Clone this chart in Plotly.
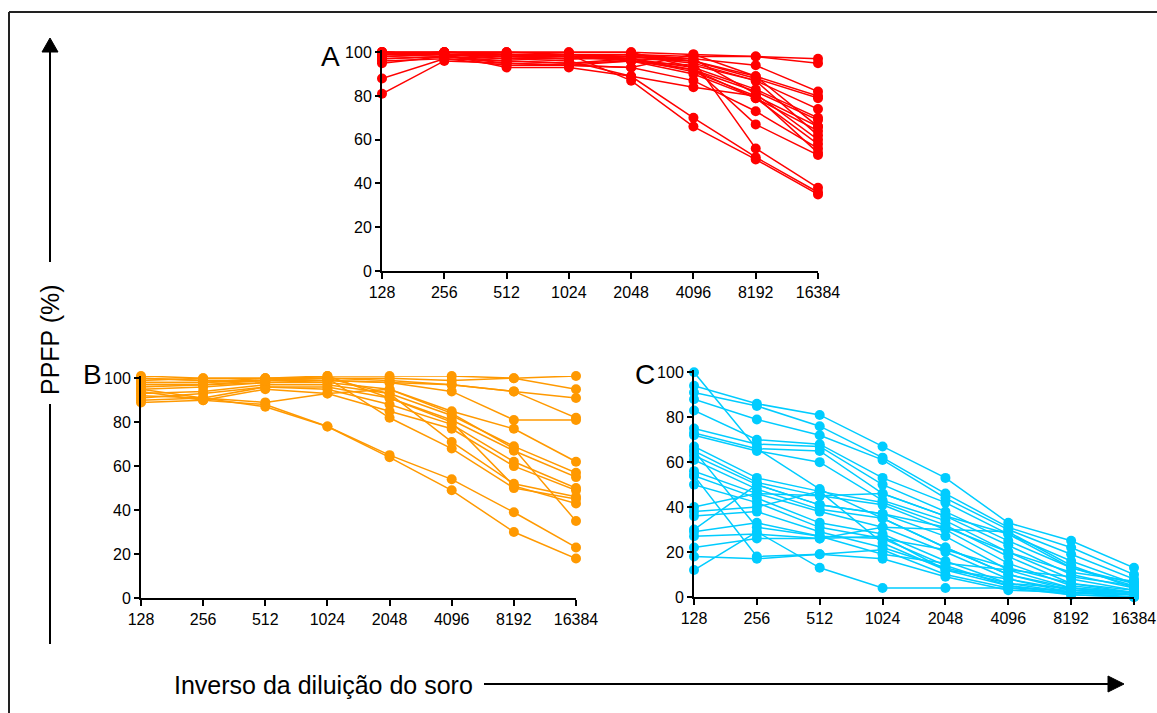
import plotly.graph_objects as go

W, H = 1157, 713

dilutions = ["128", "256", "512", "1024", "2048", "4096", "8192", "16384"]
y_ticks = [0, 20, 40, 60, 80, 100]

panel_a = [
    [100, 100, 100, 100, 100, 99, 98, 97],
    [99, 100, 99, 99, 99, 98, 98, 95],
    [100, 99, 99, 98, 98, 97, 94, 82],
    [98, 99, 98, 98, 99, 96, 89, 80],
    [95, 98, 97, 97, 98, 96, 88, 79],
    [100, 99, 98, 97, 98, 95, 87, 74],
    [88, 97, 96, 95, 97, 93, 83, 70],
    [81, 96, 95, 94, 96, 92, 82, 69],
    [99, 100, 100, 99, 97, 91, 80, 66],
    [100, 99, 98, 98, 96, 90, 79, 64],
    [97, 98, 96, 95, 96, 94, 87, 62],
    [99, 99, 99, 98, 99, 97, 81, 60],
    [100, 100, 99, 98, 97, 92, 79, 58],
    [96, 97, 94, 94, 93, 87, 73, 56],
    [100, 99, 93, 93, 89, 84, 80, 54],
    [99, 100, 100, 100, 100, 93, 67, 53],
    [100, 99, 98, 97, 97, 96, 56, 38],
    [98, 99, 97, 96, 89, 70, 52, 36],
    [100, 100, 99, 99, 87, 66, 51, 35],
    [97, 98, 95, 94, 93, 99, 89, 66],
]

panel_b = [
    [99, 100, 100, 101, 101, 101, 100, 101],
    [100, 99, 99, 100, 100, 99, 100, 95],
    [98, 98, 99, 99, 98, 97, 94, 91],
    [101, 100, 100, 100, 99, 97, 94, 82],
    [96, 97, 98, 99, 98, 94, 81, 81],
    [95, 96, 98, 98, 95, 85, 77, 62],
    [93, 94, 97, 97, 93, 83, 69, 57],
    [91, 93, 96, 96, 91, 81, 67, 55],
    [90, 91, 96, 95, 88, 79, 62, 50],
    [89, 90, 95, 93, 85, 77, 60, 49],
    [100, 99, 99, 100, 93, 71, 52, 46],
    [98, 98, 100, 100, 82, 68, 50, 45],
    [97, 97, 99, 101, 91, 80, 51, 43],
    [92, 91, 89, 93, 95, 84, 68, 35],
    [95, 91, 87, 78, 65, 54, 39, 23],
    [94, 90, 88, 78, 64, 49, 30, 18],
]

panel_c = [
    [100, 66, 48, 35, 22, 10, 4, 2],
    [94, 86, 81, 67, 53, 33, 25, 13],
    [91, 85, 76, 62, 46, 31, 22, 10],
    [88, 79, 72, 61, 44, 30, 19, 8],
    [83, 70, 68, 53, 42, 28, 16, 6],
    [75, 68, 67, 50, 38, 25, 13, 5],
    [73, 66, 65, 46, 36, 23, 10, 4],
    [72, 65, 60, 43, 34, 20, 8, 3],
    [67, 53, 47, 42, 32, 18, 6, 2],
    [65, 51, 45, 41, 30, 15, 5, 2],
    [63, 50, 41, 37, 27, 12, 4, 1],
    [61, 48, 39, 35, 22, 10, 3, 1],
    [56, 46, 38, 31, 20, 8, 2, 1],
    [54, 44, 33, 28, 16, 6, 2, 0],
    [50, 42, 31, 26, 14, 5, 1, 0],
    [40, 46, 45, 46, 36, 28, 13, 6],
    [38, 40, 47, 24, 12, 5, 2, 1],
    [36, 38, 29, 22, 13, 6, 4, 2],
    [30, 50, 41, 37, 31, 20, 11, 7],
    [29, 33, 27, 26, 21, 13, 6, 3],
    [27, 28, 26, 31, 30, 29, 14, 4],
    [22, 26, 26, 27, 12, 8, 3, 1],
    [18, 17, 19, 21, 10, 4, 1, 0],
    [12, 29, 13, 4, 4, 4, 3, 2],
    [65, 31, 27, 19, 15, 12, 9, 5],
    [54, 18, 19, 17, 9, 3, 2, 1],
]

COL_A = "#FF0000"
COL_B = "#FF9900"
COL_C = "#00CCFF"
FONT = "Arial, Liberation Sans, sans-serif"


def fx(px):
    return px / W


def fy(py):
    return 1 - py / H


# panel geometry in pixels: (x_left, x_right, y_bottom, y_top)
geo = {
    "A": (382, 818, 271, 50),
    "B": (141, 576, 598, 376),
    "C": (694, 1134, 597, 370),
}

fig = go.Figure()

panels = [("A", panel_a, COL_A, "x", "y"),
          ("B", panel_b, COL_B, "x2", "y2"),
          ("C", panel_c, COL_C, "x3", "y3")]

for name, data, col, xa, ya in panels:
    for series in data:
        fig.add_trace(go.Scatter(
            x=dilutions, y=series, mode="lines+markers",
            line=dict(color=col, width=1.5),
            marker=dict(color=col, size=10),
            cliponaxis=False, showlegend=False,
            xaxis=xa, yaxis=ya, hoverinfo="skip"))

layout = dict(
    template="none",
    width=W, height=H,
    margin=dict(l=0, r=0, t=0, b=0, pad=0, autoexpand=False),
    paper_bgcolor="white", plot_bgcolor="white",
    font=dict(family=FONT, color="black", size=16),
    showlegend=False,
)

for i, (name, _, _, xa, ya) in enumerate(panels):
    xl, xr, yb, yt = geo[name]
    suffix = "" if i == 0 else str(i + 1)
    layout["xaxis" + suffix] = dict(
        domain=[fx(xl), fx(xr)], type="category", range=[0, 7],
        anchor="y" + suffix, showline=True, linecolor="black", linewidth=2,
        ticks="outside", ticklen=6, tickwidth=1.5, tickcolor="black",
        showgrid=False, zeroline=False, automargin=False,
        tickfont=dict(size=16, family=FONT), fixedrange=True)
    layout["yaxis" + suffix] = dict(
        domain=[fy(yb), fy(yt)], range=[0, 101], anchor="x" + suffix,
        showline=True, linecolor="black", linewidth=2,
        ticks="outside", ticklen=5, tickwidth=1.5, tickcolor="black",
        tickvals=y_ticks, showgrid=False, zeroline=False, automargin=False,
        tickfont=dict(size=16, family=FONT), fixedrange=True)

fig.update_layout(**layout)

# panel letters
for txt, px, py in [("A", 330, 56), ("B", 92, 374), ("C", 645, 374)]:
    fig.add_annotation(x=fx(px), y=fy(py), xref="paper", yref="paper",
                       text=txt, showarrow=False,
                       font=dict(size=28, family=FONT, color="black"),
                       xanchor="center", yanchor="middle")

shapes = []
# outer frame (left and top edges visible)
shapes.append(dict(type="line", xref="paper", yref="paper",
                   x0=fx(9), y0=fy(12), x1=fx(1157), y1=fy(12),
                   line=dict(color="#222222", width=2)))
shapes.append(dict(type="line", xref="paper", yref="paper",
                   x0=fx(9), y0=fy(12), x1=fx(9), y1=fy(713),
                   line=dict(color="#222222", width=2)))

# vertical axis arrow
shapes.append(dict(type="line", xref="paper", yref="paper",
                   x0=fx(50), y0=fy(644), x1=fx(50), y1=fy(404),
                   line=dict(color="black", width=2)))
shapes.append(dict(type="line", xref="paper", yref="paper",
                   x0=fx(50), y0=fy(262), x1=fx(50), y1=fy(50),
                   line=dict(color="black", width=2)))
shapes.append(dict(type="path", xref="paper", yref="paper",
                   path=f"M {fx(42)},{fy(52)} L {fx(58)},{fy(52)} L {fx(50)},{fy(38)} Z",
                   fillcolor="black", line=dict(color="black", width=1)))

# horizontal axis arrow
shapes.append(dict(type="line", xref="paper", yref="paper",
                   x0=fx(484), y0=fy(684), x1=fx(1110), y1=fy(684),
                   line=dict(color="black", width=2)))
shapes.append(dict(type="path", xref="paper", yref="paper",
                   path=f"M {fx(1108)},{fy(676)} L {fx(1108)},{fy(692)} L {fx(1124)},{fy(684)} Z",
                   fillcolor="black", line=dict(color="black", width=1)))

fig.update_layout(shapes=shapes)

fig.add_annotation(x=fx(50), y=fy(340), xref="paper", yref="paper",
                   text="PPFP (%)", textangle=-90, showarrow=False,
                   font=dict(size=25, family=FONT, color="black"),
                   xanchor="center", yanchor="middle")
fig.add_annotation(x=fx(172), y=fy(685), xref="paper", yref="paper",
                   text="Inverso da diluição do soro", showarrow=False,
                   font=dict(size=25, family=FONT, color="black"),
                   xanchor="left", yanchor="middle")

fig.write_html("out.html", config={"displayModeBar": False})
